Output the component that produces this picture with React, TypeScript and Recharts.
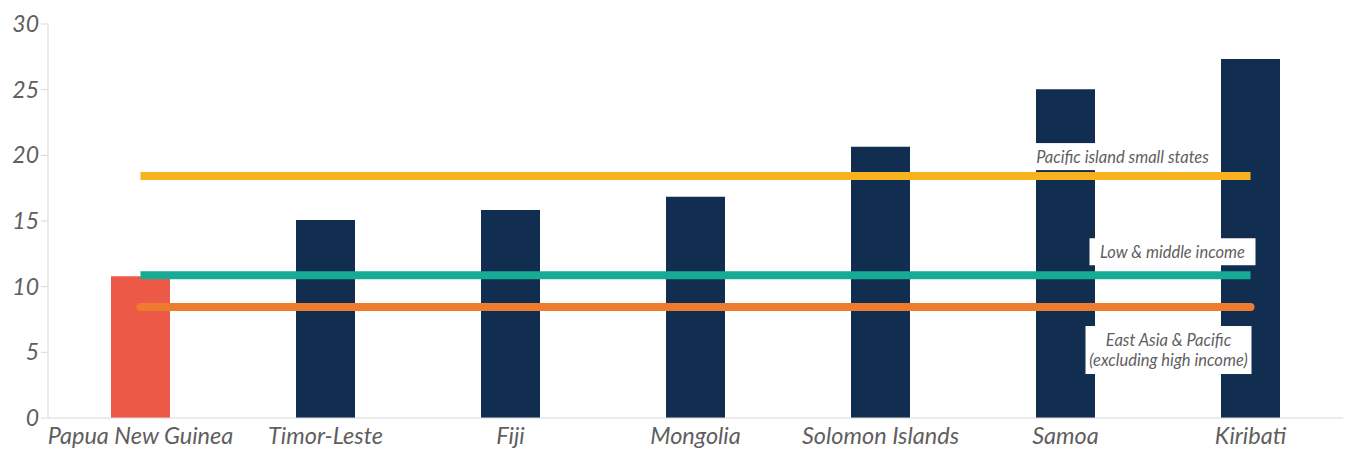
import {
  ComposedChart,
  Bar,
  Line,
  Cell,
  XAxis,
  YAxis,
} from 'recharts';

const countries = [
  'Papua New Guinea',
  'Timor-Leste',
  'Fiji',
  'Mongolia',
  'Solomon Islands',
  'Samoa',
  'Kiribati',
];
const countryValues = [10.8, 15.07, 15.83, 16.85, 20.65, 25.03, 27.34];
const pacificSmallStates = [18.42, 18.42, 18.42, 18.42, 18.42, 18.42, 18.42];
const lowMiddleIncome = [10.87, 10.87, 10.87, 10.87, 10.87, 10.87, 10.87];
const eastAsiaPacific = [8.45, 8.45, 8.45, 8.45, 8.45, 8.45, 8.45];
const yTicks = [0, 5, 10, 15, 20, 25, 30];

const data = countries.map((name, i) => ({
  name,
  value: countryValues[i],
  pacific: pacificSmallStates[i],
  lmi: lowMiddleIncome[i],
  eap: eastAsiaPacific[i],
}));

const textColor = '#5f5f5f';
const fontFamily = 'Lato, "Open Sans", sans-serif';

// white boxed note next to the end of a line
const boxLabel = (lines: string[], dx: number, dy: number, w: number, h: number) =>
  (props: any) => {
    const { x, y, index } = props;
    if (index !== countries.length - 1) return null;
    return (
      <g>
        <rect x={x + dx} y={y + dy} width={w} height={h} fill="#fff" />
        {lines.map((t, i) => (
          <text
            key={i}
            x={x + dx + w / 2}
            y={y + dy + h / 2 + (i - (lines.length - 1) / 2) * 20}
            textAnchor="middle"
            dominantBaseline="central"
            fontSize={16.5}
            fontStyle="italic"
            fontFamily={fontFamily}
            fill={textColor}
          >
            {t}
          </text>
        ))}
      </g>
    );
  };

export default function App() {
  return (
    <div style={{ position: 'absolute', left: 0, top: 0, background: '#fff' }}>
      <ComposedChart
        width={1346}
        height={449}
        data={data}
        margin={{ top: 24, right: 3, bottom: 0, left: 0 }}
      >
        <XAxis
          dataKey="name"
          tickLine={false}
          axisLine={{ stroke: '#d9d9d9' }}
          height={31}
          interval={0}
          tickMargin={3}
          tick={{ fill: textColor, fontSize: 23.5, fontStyle: 'italic', fontFamily }}
        />
        <YAxis
          domain={[0, 30]}
          ticks={yTicks}
          width={48}
          tickSize={7}
          tickLine={{ stroke: '#d9d9d9' }}
          axisLine={{ stroke: '#d9d9d9' }}
          tickMargin={2}
          tick={{ fill: textColor, fontSize: 23, fontStyle: 'italic', fontFamily }}
        />
        <Bar dataKey="value" barSize={59} isAnimationActive={false}>
          {data.map((d, i) => (
            <Cell key={d.name} fill={i === 0 ? '#ec5a47' : '#112e51'} />
          ))}
        </Bar>
        <Line
          dataKey="pacific"
          stroke="#f7b21e"
          strokeWidth={8}
          dot={false}
          activeDot={false}
          isAnimationActive={false}
          label={boxLabel(['Pacific island small states'], -221, -33, 186, 27)}
        />
        <Line
          dataKey="lmi"
          stroke="#17ab95"
          strokeWidth={8}
          dot={false}
          activeDot={false}
          isAnimationActive={false}
          label={boxLabel(['Low & middle income'], -161, -37, 166, 27)}
        />
        <Line
          dataKey="eap"
          stroke="#ee7c2f"
          strokeWidth={8}
          strokeLinecap="round"
          dot={false}
          activeDot={false}
          isAnimationActive={false}
          label={boxLabel(['East Asia & Pacific', '(excluding high income)'], -165, 19, 166, 48)}
        />
      </ComposedChart>
    </div>
  );
}
